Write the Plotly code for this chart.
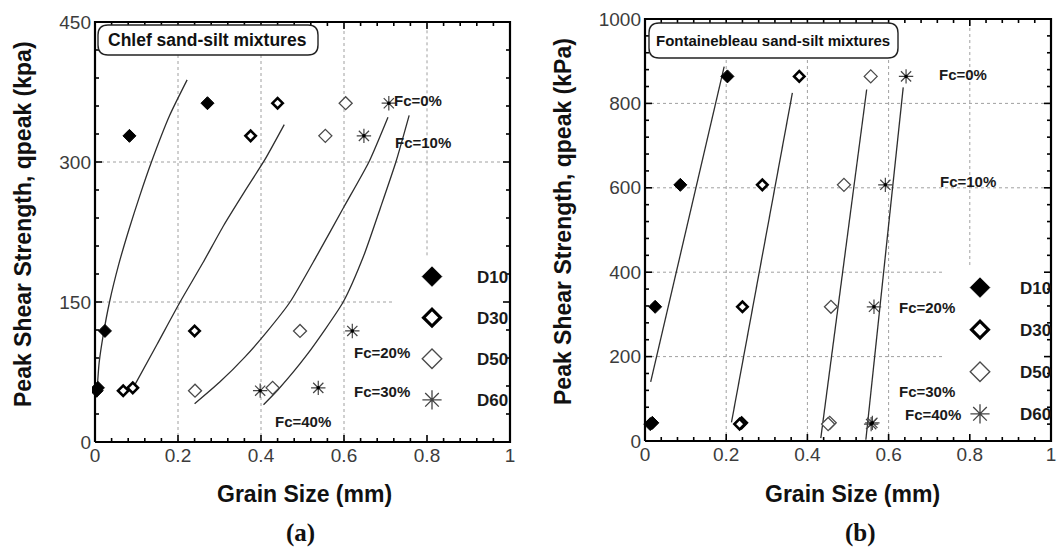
import plotly.graph_objects as go

W, H = 1060, 550

# ---------------- data ----------------
FC_LABELS = ["Fc=0%", "Fc=10%", "Fc=20%", "Fc=30%", "Fc=40%"]
SERIES = ["D10", "D30", "D50", "D60"]

# (a) Chlef sand-silt mixtures : peak shear strength (kPa) vs grain size (mm)
CHLEF_Q = [363, 328, 119, 58, 55]
CHLEF_D10 = [0.271, 0.083, 0.024, 0.007, 0.004]
CHLEF_D30 = [0.440, 0.375, 0.240, 0.091, 0.068]
CHLEF_D50 = [0.604, 0.555, 0.494, 0.428, 0.241]
CHLEF_D60 = [0.708, 0.648, 0.620, 0.538, 0.398]

# fitted curves
CHLEF_FIT_D10_X = [0.004, 0.010, 0.020, 0.035, 0.057, 0.082, 0.108, 0.136, 0.180, 0.222]
CHLEF_FIT_D10_Y = [48, 85, 115, 150, 190, 228, 264, 300, 350, 388]
CHLEF_FIT_D30_X = [0.092, 0.150, 0.205, 0.260, 0.310, 0.360, 0.410, 0.456]
CHLEF_FIT_D30_Y = [58, 105, 150, 192, 232, 268, 303, 340]
CHLEF_FIT_D50_X = [0.240, 0.300, 0.361, 0.414, 0.470, 0.535, 0.600, 0.660, 0.706]
CHLEF_FIT_D50_Y = [41, 64, 91, 118, 150, 200, 252, 300, 348]
CHLEF_FIT_D60_X = [0.406, 0.441, 0.510, 0.598, 0.647, 0.687, 0.725, 0.757]
CHLEF_FIT_D60_Y = [40, 56, 93, 150, 199, 250, 300, 350]

# (b) Fontainebleau sand-silt mixtures
FONT_Q = [864, 607, 318, 43, 40]
FONT_D10 = [0.203, 0.087, 0.025, 0.018, 0.013]
FONT_D30 = [0.380, 0.289, 0.240, 0.238, 0.233]
FONT_D50 = [0.556, 0.490, 0.458, 0.455, 0.451]
FONT_D60 = [0.643, 0.592, 0.564, 0.560, 0.557]

FONT_FIT_D10_X = [0.014, 0.195]
FONT_FIT_D10_Y = [140, 887]
FONT_FIT_D30_X = [0.213, 0.363]
FONT_FIT_D30_Y = [44, 825]
FONT_FIT_D50_X = [0.433, 0.546]
FONT_FIT_D50_Y = [7, 833]
FONT_FIT_D60_X = [0.544, 0.636]
FONT_FIT_D60_Y = [3, 838]

# axis ranges / tick steps
LEFT_XRANGE, LEFT_YRANGE = [0, 1], [0, 450]
RIGHT_XRANGE, RIGHT_YRANGE = [0, 1], [0, 1000]
X_MAJOR, X_MINOR = 0.2, 0.04
LEFT_Y_MAJOR, LEFT_Y_MINOR = 150, 30
RIGHT_Y_MAJOR, RIGHT_Y_MINOR = 200, 40

# grid-line values (major ticks)
LEFT_XGRID = [0.2, 0.4, 0.6, 0.8]
LEFT_YGRID = [150, 300]
RIGHT_XGRID = [0.2, 0.4, 0.6, 0.8]
RIGHT_YGRID = [200, 400, 600, 800]

# ---------------- styling ----------------
SANS = "Liberation Sans, Arial, Helvetica, sans-serif"
SERIF = "Liberation Serif, Times New Roman, serif"

MARKERS = {
    "D10": dict(symbol="diamond", size=10, color="#000000", line=dict(color="#000000", width=1)),
    "D30": dict(symbol="diamond", size=8, color="#ffffff", line=dict(color="#000000", width=2.6)),
    "D50": dict(symbol="diamond", size=10, color="#ffffff", line=dict(color="#4a4a4a", width=1.3)),
    "D60": dict(symbol="asterisk-open", size=12, color="#444444", line=dict(color="#444444", width=1.2)),
}
LEG_MARKERS = {
    "D10": dict(symbol="diamond", size=15, color="#000000", line=dict(color="#000000", width=1)),
    "D30": dict(symbol="diamond", size=13, color="#ffffff", line=dict(color="#000000", width=3.2)),
    "D50": dict(symbol="diamond", size=15, color="#ffffff", line=dict(color="#4a4a4a", width=1.4)),
    "D60": dict(symbol="asterisk-open", size=16, color="#444444", line=dict(color="#444444", width=1.3)),
}
LINE = dict(color="#2e2e2e", width=1.3)
GRID = dict(color="#a0a0a0", width=1, dash="dot")
PAD = 3   # px of axis range kept outside the frame so the frame is not clipped


def dx(px):
    return px / W


def dy(py):
    return 1 - py / H


# frame boxes in pixels (left, top, right, bottom)
BOX_A = (95, 22, 510, 442)
BOX_B = (645, 19, 1051, 441)

fig = go.Figure()

panels = [
    dict(ax="x", ay="y", legend="legend", q=CHLEF_Q, box=BOX_A,
         xr=LEFT_XRANGE, yr=LEFT_YRANGE, ymaj=LEFT_Y_MAJOR, ymin=LEFT_Y_MINOR,
         d={"D10": CHLEF_D10, "D30": CHLEF_D30, "D50": CHLEF_D50, "D60": CHLEF_D60},
         fits=[(CHLEF_FIT_D10_X, CHLEF_FIT_D10_Y), (CHLEF_FIT_D30_X, CHLEF_FIT_D30_Y),
               (CHLEF_FIT_D50_X, CHLEF_FIT_D50_Y), (CHLEF_FIT_D60_X, CHLEF_FIT_D60_Y)],
         shape="spline"),
    dict(ax="x2", ay="y2", legend="legend2", q=FONT_Q, box=BOX_B,
         xr=RIGHT_XRANGE, yr=RIGHT_YRANGE, ymaj=RIGHT_Y_MAJOR, ymin=RIGHT_Y_MINOR,
         d={"D10": FONT_D10, "D30": FONT_D30, "D50": FONT_D50, "D60": FONT_D60},
         fits=[(FONT_FIT_D10_X, FONT_FIT_D10_Y), (FONT_FIT_D30_X, FONT_FIT_D30_Y),
               (FONT_FIT_D50_X, FONT_FIT_D50_Y), (FONT_FIT_D60_X, FONT_FIT_D60_Y)],
         shape="linear"),
]


def tick_set(rng, major, minor):
    n = int(round((rng[1] - rng[0]) / minor))
    every = int(round(major / minor))
    vals = [round(rng[0] + i * minor, 6) for i in range(n + 1)]
    text = [f"{v:g}" if i % every == 0 else "" for i, v in enumerate(vals)]
    return vals, text


for p in panels:
    for fx, fy in p["fits"]:
        fig.add_trace(go.Scatter(x=fx, y=fy, mode="lines", xaxis=p["ax"], yaxis=p["ay"],
                                 line=dict(LINE, shape=p["shape"], smoothing=0.6),
                                 showlegend=False, hoverinfo="skip"))
    for s in SERIES:
        fig.add_trace(go.Scatter(x=p["d"][s], y=p["q"], mode="markers", name=s,
                                 xaxis=p["ax"], yaxis=p["ay"], marker=MARKERS[s],
                                 showlegend=False))
    # center dot of the asterisks
    fig.add_trace(go.Scatter(x=p["d"]["D60"], y=p["q"], mode="markers",
                             xaxis=p["ax"], yaxis=p["ay"],
                             marker=dict(symbol="circle", size=3.5, color="#000000"),
                             showlegend=False, hoverinfo="skip"))
    # legend entries
    for s in SERIES:
        fig.add_trace(go.Scatter(x=[None], y=[None], mode="markers", name=s,
                                 xaxis=p["ax"], yaxis=p["ay"], marker=LEG_MARKERS[s],
                                 legend=p["legend"], legendgroup=p["legend"] + s,
                                 showlegend=True))

    # frame and inward ticks on all four sides, drawn on the panel's own axes
    L, T, R, B = p["box"]
    xr, yr = p["xr"], p["yr"]
    ux = (xr[1] - xr[0]) / (R - L)      # data units per pixel
    uy = (yr[1] - yr[0]) / (B - T)
    p["ux"], p["uy"] = ux, uy
    tx, ty = [], []
    xv, xt = tick_set(xr, X_MAJOR, X_MINOR)
    for v, t in zip(xv, xt):
        ln = (7 if t else 4) * uy
        tx += [v, v, None, v, v, None]
        ty += [yr[0], yr[0] + ln, None, yr[1], yr[1] - ln, None]
    yv, yt = tick_set(yr, p["ymaj"], p["ymin"])
    for v, t in zip(yv, yt):
        ln = (7 if t else 4) * ux
        tx += [xr[0], xr[0] + ln, None, xr[1], xr[1] - ln, None]
        ty += [v, v, None, v, v, None]
    fig.add_trace(go.Scatter(x=tx, y=ty, mode="lines", xaxis=p["ax"], yaxis=p["ay"],
                             line=dict(color="#000000", width=1.6), connectgaps=False,
                             showlegend=False, hoverinfo="skip"))
    fig.add_trace(go.Scatter(x=[xr[0], xr[1], xr[1], xr[0], xr[0]],
                             y=[yr[0], yr[0], yr[1], yr[1], yr[0]],
                             mode="lines", xaxis=p["ax"], yaxis=p["ay"],
                             line=dict(color="#000000", width=2.2),
                             showlegend=False, hoverinfo="skip"))


# ---------------- axes ----------------
def axis(box_lo, box_hi, rng, unit, major, minor, anchor, standoff, is_y):
    vals, text = tick_set(rng, major, minor)
    if is_y:
        domain = [dy(box_lo + PAD), dy(box_hi - PAD)]
    else:
        domain = [dx(box_lo - PAD), dx(box_hi + PAD)]
    return dict(
        domain=domain, range=[rng[0] - PAD * unit, rng[1] + PAD * unit],
        autorange=False, anchor=anchor,
        tickmode="array", tickvals=vals, ticktext=text,
        showline=False, ticks="", showgrid=False, zeroline=False,
        automargin=False, fixedrange=True,
        ticklabelstandoff=standoff,
        tickfont=dict(family=SANS, size=19, color="#3c3c3c"),
    )


pa, pb = panels
fig.update_layout(
    xaxis=axis(BOX_A[0], BOX_A[2], LEFT_XRANGE, pa["ux"], X_MAJOR, X_MINOR, "y", -3, False),
    yaxis=axis(BOX_A[3], BOX_A[1], LEFT_YRANGE, pa["uy"], LEFT_Y_MAJOR, LEFT_Y_MINOR, "x", 0, True),
    xaxis2=axis(BOX_B[0], BOX_B[2], RIGHT_XRANGE, pb["ux"], X_MAJOR, X_MINOR, "y2", -3, False),
    yaxis2=axis(BOX_B[3], BOX_B[1], RIGHT_YRANGE, pb["uy"], RIGHT_Y_MAJOR, RIGHT_Y_MINOR, "x2", 0, True),
)

# dotted grid lines (interrupted behind the legend boxes)
LEFT_LEG_X, LEFT_LEG_Y = 0.716, 200      # legend box corner in data units
RIGHT_LEG_X, RIGHT_LEG_Y = 0.739, 417
for gx in LEFT_XGRID:
    fig.add_shape(type="line", xref="x", yref="y", x0=gx, x1=gx,
                  y0=LEFT_LEG_Y if gx > LEFT_LEG_X else 0, y1=LEFT_YRANGE[1], line=GRID, layer="below")
for gy in LEFT_YGRID:
    fig.add_shape(type="line", xref="x", yref="y", y0=gy, y1=gy, x0=0,
                  x1=LEFT_LEG_X if gy < LEFT_LEG_Y else 1, line=GRID, layer="below")
for gx in RIGHT_XGRID:
    fig.add_shape(type="line", xref="x2", yref="y2", x0=gx, x1=gx,
                  y0=RIGHT_LEG_Y if gx > RIGHT_LEG_X else 0, y1=RIGHT_YRANGE[1], line=GRID, layer="below")
for gy in RIGHT_YGRID:
    fig.add_shape(type="line", xref="x2", yref="y2", y0=gy, y1=gy, x0=0,
                  x1=RIGHT_LEG_X if gy < RIGHT_LEG_Y else 1, line=GRID, layer="below")


# rounded title boxes
def rounded_box(x0, y0, x1, y1, r):
    X = lambda v: v / W
    Y = lambda v: 1 - v / H
    return (f"M {X(x0 + r)},{Y(y0)} L {X(x1 - r)},{Y(y0)} Q {X(x1)},{Y(y0)} {X(x1)},{Y(y0 + r)} "
            f"L {X(x1)},{Y(y1 - r)} Q {X(x1)},{Y(y1)} {X(x1 - r)},{Y(y1)} "
            f"L {X(x0 + r)},{Y(y1)} Q {X(x0)},{Y(y1)} {X(x0)},{Y(y1 - r)} "
            f"L {X(x0)},{Y(y0 + r)} Q {X(x0)},{Y(y0)} {X(x0 + r)},{Y(y0)} Z")


for (bx0, by0, bx1, by1) in [(98, 25, 318, 55), (649, 23, 898, 58)]:
    fig.add_shape(type="path", xref="paper", yref="paper",
                  path=rounded_box(bx0, by0, bx1, by1, 10),
                  fillcolor="#ffffff", line=dict(color="#222222", width=1.4), layer="above")

ann = [
    dict(x=dx(207.5), y=dy(40), text="Chlef sand-silt mixtures", size=17.5, family=SANS),
    dict(x=dx(773), y=dy(40.5), text="Fontainebleau sand-silt mixtures", size=15, family=SANS),
    dict(x=dx(23), y=dy(224), text="Peak Shear Strength, qpeak (kpa)", size=23, family=SANS, angle=-90),
    dict(x=dx(563), y=dy(222), text="Peak Shear Strength, qpeak (kPa)", size=23, family=SANS, angle=-90),
    dict(x=dx(304), y=dy(494), text="Grain Size (mm)", size=23, family=SANS),
    dict(x=dx(852), y=dy(494), text="Grain Size (mm)", size=23, family=SANS),
    dict(x=dx(300), y=dy(533), text="(a)", size=25, family=SERIF),
    dict(x=dx(860), y=dy(533), text="(b)", size=25, family=SERIF),
]
for a in ann:
    fig.add_annotation(x=a["x"], y=a["y"], xref="paper", yref="paper", text=a["text"],
                       showarrow=False, xanchor="center", yanchor="middle",
                       textangle=a.get("angle", 0),
                       font=dict(family=a["family"], size=a["size"], color="#111111",
                                 weight="bold"))

# Fc labels (data coordinates)
CHLEF_LABEL_POS = [(0.716, 366), (0.718, 321), (0.619, 96), (0.619, 54), (0.429, 22)]
FONT_LABEL_POS = [(0.719, 869), (0.722, 614), (0.621, 317), (0.621, 117), (0.636, 62)]
for (ax, ay, pos) in [("x", "y", CHLEF_LABEL_POS), ("x2", "y2", FONT_LABEL_POS)]:
    for lab, (lx, ly) in zip(FC_LABELS, pos):
        fig.add_annotation(x=lx, y=ly, xref=ax, yref=ay, text=lab, showarrow=False,
                           xanchor="left", yanchor="middle",
                           font=dict(family=SANS, size=15, color="#1a1a1a", weight="bold"))

legend_common = dict(
    xanchor="left", yanchor="top",
    bgcolor="rgba(0,0,0,0)", borderwidth=0, itemsizing="trace",
    font=dict(family=SANS, size=17, color="#1a1a1a", weight="bold"),
    traceorder="grouped",
)
fig.update_layout(
    legend=dict(legend_common, x=dx(387), y=dy(259), itemwidth=80, tracegroupgap=16),
    legend2=dict(legend_common, x=dx(940), y=dy(270), itemwidth=70, tracegroupgap=17),
)

fig.update_layout(
    template="none",
    width=W, height=H,
    margin=dict(l=0, r=0, t=0, b=0, autoexpand=False),
    paper_bgcolor="#ffffff", plot_bgcolor="#ffffff",
    showlegend=True,
    font=dict(family=SANS),
)

fig.write_html("out.html", config={"displayModeBar": False, "responsive": False})
